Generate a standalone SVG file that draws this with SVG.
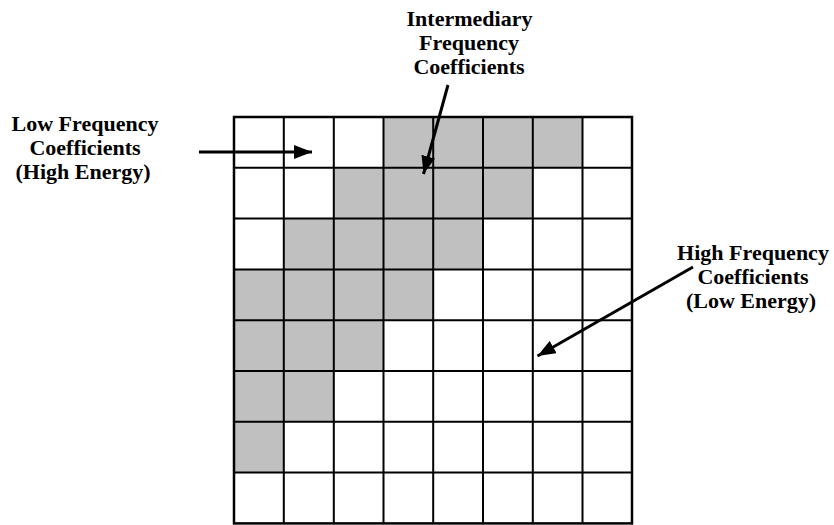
<svg xmlns="http://www.w3.org/2000/svg" width="834" height="525" viewBox="0 0 834 525">
<defs>
<style>
.lbl{font-family:"Liberation Serif","Times New Roman",serif;font-weight:bold;font-size:22px;fill:#000;text-anchor:middle}
.sh{fill:#c0c0c0}
.gl{stroke:#000;stroke-width:2;fill:none}
.ar{stroke:#000;stroke-width:3;fill:none}
</style>
<marker id="ah" markerWidth="18" markerHeight="14" viewBox="0 0 18 14" refX="18" refY="7" orient="auto" markerUnits="userSpaceOnUse">
<path d="M0,0 L18,7 L0,14 Z" fill="#000"/>
</marker>
</defs>
<rect width="834" height="525" fill="#fff"/>
<g id="grid">
<g id="shaded">
<rect class="sh" x="383.5" y="117" width="199" height="50.8"/>
<rect class="sh" x="333.8" y="167.8" width="199" height="50.8"/>
<rect class="sh" x="284" y="218.6" width="199" height="50.8"/>
<rect class="sh" x="234" y="269.4" width="199.5" height="50.8"/>
<rect class="sh" x="234" y="320.2" width="149.5" height="50.8"/>
<rect class="sh" x="234" y="371" width="99.8" height="50.8"/>
<rect class="sh" x="234" y="421.8" width="49.8" height="50.8"/>
</g>
<path class="gl" d="M283.8,117V523.4M333.8,117V523.4M383.5,117V523.4M433.2,117V523.4M483,117V523.4M532.8,117V523.4M582.5,117V523.4M234,167.8H632M234,218.6H632M234,269.4H632M234,320.2H632M234,371H632M234,421.8H632M234,472.6H632"/>
<rect x="234" y="117" width="398" height="406.4" fill="none" stroke="#000" stroke-width="2.5"/>
</g>
<g id="label-low">
<text class="lbl" x="85" y="131">Low Frequency</text>
<text class="lbl" x="85" y="155">Coefficients</text>
<text class="lbl" x="83" y="179">(High Energy)</text>
</g>
<g id="label-mid">
<text class="lbl" x="469.5" y="26">Intermediary</text>
<text class="lbl" x="469" y="50">Frequency</text>
<text class="lbl" x="469" y="74">Coefficients</text>
</g>
<g id="label-high">
<text class="lbl" x="753" y="260">High Frequency</text>
<text class="lbl" x="753" y="284">Coefficients</text>
<text class="lbl" x="751" y="308">(Low Energy)</text>
</g>
<g id="connectors">
<line class="ar" x1="199" y1="152" x2="312" y2="152" marker-end="url(#ah)"/>
<line class="ar" x1="448" y1="85" x2="423.5" y2="174" marker-end="url(#ah)"/>
<line class="ar" x1="693" y1="267" x2="537.5" y2="356" marker-end="url(#ah)"/>
</g>
</svg>
